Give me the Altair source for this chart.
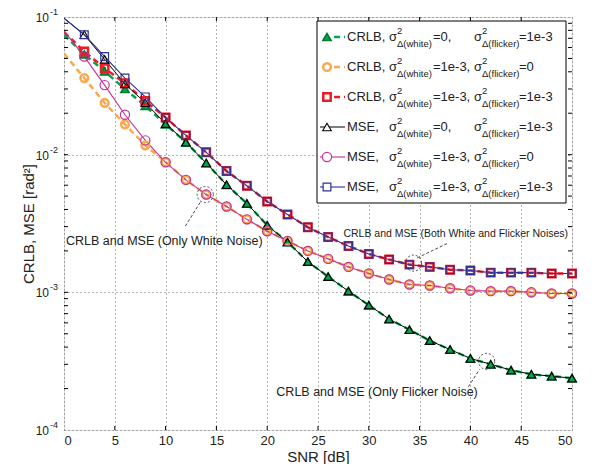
import altair as alt
import pandas as pd

# ---------------- data ----------------
SNR = list(range(0, 51, 2))

crlb_flicker = [0.074, 0.0535, 0.0403, 0.030, 0.0226, 0.0166, 0.0123, 0.00869, 0.00604, 0.00442,
                0.00307, 0.00232, 0.00167, 0.0013, 0.00102, 0.000807, 0.00064, 0.000535, 0.000446,
                0.000384, 0.000331, 0.0003, 0.000272, 0.000254, 0.000246, 0.000238]
crlb_white = [0.0543, 0.036, 0.0238, 0.0166, 0.0117, 0.00883, 0.00656, 0.00513, 0.0042, 0.00339,
              0.00278, 0.00236, 0.002, 0.00175, 0.00153, 0.00137, 0.00124, 0.00114, 0.00112,
              0.00107, 0.00103, 0.00102, 0.00102, 0.001, 0.00098, 0.00098]
crlb_both = [0.078, 0.0561, 0.0424, 0.033, 0.0246, 0.0186, 0.0138, 0.0104, 0.0076, 0.00594,
             0.00457, 0.00368, 0.00297, 0.00252, 0.00217, 0.0019, 0.00173, 0.00159, 0.00153,
             0.00146, 0.00144, 0.00139, 0.00139, 0.00139, 0.00137, 0.00137]
mse_flicker = [0.098, 0.0743, 0.0492, 0.0326, 0.0238, 0.0168, 0.0123, 0.00869, 0.00604, 0.00442,
               0.00307, 0.00232, 0.00167, 0.0013, 0.00102, 0.000807, 0.00064, 0.000535, 0.000446,
               0.000384, 0.000331, 0.0003, 0.000272, 0.000254, 0.000246, 0.000238]
mse_white = [0.0794, 0.0516, 0.032, 0.0195, 0.0127, 0.0088, 0.00656, 0.00513, 0.0042, 0.00339,
             0.00278, 0.00236, 0.002, 0.00175, 0.00153, 0.00137, 0.00124, 0.00114, 0.00112,
             0.00107, 0.00103, 0.00102, 0.00102, 0.001, 0.00098, 0.00098]
mse_both = [0.098, 0.0743, 0.0516, 0.036, 0.0263, 0.0186, 0.0138, 0.0104, 0.0076, 0.00594,
            0.00457, 0.00368, 0.00297, 0.00252, 0.00217, 0.0019, 0.00173, 0.00159, 0.00153,
            0.00146, 0.00144, 0.00139, 0.00139, 0.00139, 0.00137, 0.00137]

X_TICKS = list(range(0, 51, 5))
Y_DECADES = [1e-4, 1e-3, 1e-2, 1e-1]
Y_DECADE_SUP = ["-4", "-3", "-2", "-1"]
Y_MINOR = [m * d for d in [1e-4, 1e-3, 1e-2] for m in range(2, 10)]

ANN_TEXT = ["CRLB and MSE (Only White Noise)",
            "CRLB and MSE  (Both White and Flicker Noises)",
            "CRLB and MSE (Only Flicker Noise)"]
ANN_X = [0.2, 27.5, 20.9]
ANN_Y = [0.00237, 0.00266, 0.000189]
ANN_SIZE = [12.5, 10.5, 12.5]
LEAD_X1 = [13.4, 37.7, 39.8]
LEAD_Y1 = [0.0045, 0.00226, 0.000206]
LEAD_X2 = [11.9, 34.7, 40.9]
LEAD_Y2 = [0.00299, 0.00177, 0.000276]
ELL_X = [13.9, 34.4, 41.6]
ELL_Y = [0.00513, 0.00163, 0.000315]

LEG_LABEL = ["CRLB,", "CRLB,", "CRLB,", "MSE,", "MSE,", "MSE,"]
LEG_EQ1 = ["=0,", "=1e-3,", "=1e-3,", "=0,", "=1e-3,", "=1e-3,"]
LEG_EQ2 = ["=1e-3", "=0", "=1e-3", "=1e-3", "=0", "=1e-3"]

FONT = "Liberation Sans"
GREEN, ORANGE, RED = "#00A651", "#F9A94B", "#EC1C24"
BLACK, MAGENTA, BLUE = "#000000", "#C2309A", "#2E3192"

# series styles: (values, color, dashed, line width, shape, filled, point stroke width, size)
SERIES = [
    (crlb_flicker, GREEN, True, 2.5, "triangle-up", True, 1.5, 70),
    (crlb_white, ORANGE, True, 2.5, "circle", False, 2.5, 60),
    (crlb_both, RED, True, 2.5, "square", False, 2.5, 55),
    (mse_flicker, BLACK, False, 1.0, "triangle-up", False, 1.1, 75),
    (mse_white, MAGENTA, False, 1.1, "circle", False, 1.2, 85),
    (mse_both, BLUE, False, 1.1, "square", False, 1.2, 60),
]

W, H = 508, 413

xs = alt.Scale(domain=[0, 50], nice=False, zero=False)
ys = alt.Scale(type="log", domain=[1e-4, 1e-1], nice=False)
xaxis = alt.Axis(values=X_TICKS, grid=True, gridDash=[1, 3], gridColor="#666", gridWidth=1,
                 ticks=False, domain=False, labelFontSize=13, labelPadding=4,
                 labelColor="#222", labelFont=FONT, title="SNR [dB]", titleFontSize=15,
                 titleFontWeight="normal", titlePadding=2, titleColor="#222", titleFont=FONT)
yaxis = alt.Axis(values=Y_DECADES, grid=True, gridDash=[1, 3], gridColor="#666", gridWidth=1,
                 ticks=False, domain=False, labels=False, title="CRLB, MSE [rad²]",
                 titleFontSize=15, titleFontWeight="normal", titleColor="#222", titleFont=FONT,
                 titleX=-36, titleY=H / 2, titleAngle=270, titleAlign="center",
                 titleBaseline="middle")

X = alt.X("snr:Q", scale=xs, axis=xaxis)
Y = alt.Y("v:Q", scale=ys, axis=yaxis)

main_layers = []
for vals, col, dashed, lw, shape, filled, psw, size in SERIES:
    df = pd.DataFrame({"snr": SNR, "v": vals})
    line_kw = dict(color=col, strokeWidth=lw, clip=True)
    if dashed:
        line_kw["strokeDash"] = [6, 4]
    main_layers.append(alt.Chart(df).mark_line(**line_kw).encode(x=X, y=Y))
for vals, col, dashed, lw, shape, filled, psw, size in SERIES:
    df = pd.DataFrame({"snr": SNR, "v": vals})
    if filled:
        pk = dict(shape=shape, filled=True, fill=col, stroke="#00782f", strokeWidth=psw,
                  size=size, opacity=1)
    else:
        pk = dict(shape=shape, filled=False, stroke=col, strokeWidth=psw, size=size,
                  opacity=1, fill="transparent")
    main_layers.append(alt.Chart(df).transform_filter("datum.snr > 0")
                       .mark_point(**pk).encode(x=X, y=Y))

# minor ticks (inside) on left/right, and x ticks top/bottom
minor_df = pd.DataFrame({"v": Y_MINOR + Y_DECADES[1:3]})
main_layers.append(alt.Chart(minor_df).mark_rule(color="black", strokeWidth=1).encode(
    y=Y, x=alt.value(0), x2=alt.value(4)))
main_layers.append(alt.Chart(minor_df).mark_rule(color="black", strokeWidth=1).encode(
    y=Y, x=alt.value(W - 4), x2=alt.value(W)))
xt_df = pd.DataFrame({"snr": X_TICKS[1:-1]})
main_layers.append(alt.Chart(xt_df).mark_rule(color="black", strokeWidth=1).encode(
    x=X, y=alt.value(0), y2=alt.value(4)))
main_layers.append(alt.Chart(xt_df).mark_rule(color="black", strokeWidth=1).encode(
    x=X, y=alt.value(H - 4), y2=alt.value(H)))

# y tick labels 10^k
ylab_df = pd.DataFrame({"v": Y_DECADES, "sup": Y_DECADE_SUP, "base": ["10"] * 4})
main_layers.append(alt.Chart(ylab_df).mark_text(align="right", baseline="middle", dy=1,
                                                fontSize=12, font=FONT, color="#222").encode(
    y=Y, x=alt.value(-15), text="base:N"))
main_layers.append(alt.Chart(ylab_df).mark_text(align="left", baseline="middle", dy=-5,
                                                fontSize=9, font=FONT, color="#222").encode(
    y=Y, x=alt.value(-14), text="sup:N"))

# annotations
ann_df = pd.DataFrame({"snr": ANN_X, "v": ANN_Y, "t": ANN_TEXT, "fs": ANN_SIZE})
main_layers.append(alt.Chart(ann_df).mark_text(align="left", baseline="middle", font=FONT,
                                               color="#222").encode(
    x=X, y=Y, text="t:N", size=alt.Size("fs:Q", scale=None, legend=None)))
lead_df = pd.DataFrame({"snr": LEAD_X1, "v": LEAD_Y1, "snr2": LEAD_X2, "v2": LEAD_Y2})
main_layers.append(alt.Chart(lead_df).mark_rule(color="#333", strokeWidth=0.9,
                                                strokeDash=[3, 2]).encode(
    x=X, y=Y, x2="snr2:Q", y2="v2:Q"))
ell_df = pd.DataFrame({"snr": ELL_X, "v": ELL_Y})
main_layers.append(alt.Chart(ell_df).mark_point(shape="circle", filled=False, size=260,
                                                stroke="#333", strokeWidth=0.9,
                                                strokeDash=[2, 2], opacity=1).encode(x=X, y=Y))

main = alt.layer(*main_layers)

# ---------------- legend (pixel coordinates inside plot area) ----------------
LEG_Y = [20, 50, 80, 110, 140, 170]
frag = []
for i, yy in enumerate(LEG_Y):
    frag += [
        (283, yy, LEG_LABEL[i], 13), (325, yy, "σ", 13), (333, yy - 6.5, "2", 9.5),
        (333, yy + 7, "Δ(white)", 9.5), (369, yy, LEG_EQ1[i], 13), (410, yy, "σ", 13),
        (418, yy - 6.5, "2", 9.5), (418, yy + 7, "Δ(flicker)", 9.5), (455, yy, LEG_EQ2[i], 13),
    ]
frag_df = pd.DataFrame(frag, columns=["px", "py", "t", "fs"])

PX = lambda f: alt.X(f, scale=None, axis=None)
PY = lambda f: alt.Y(f, scale=None, axis=None)

one = alt.Data(values=[{"a": 1}])
legend_layers = [
    alt.Chart(one).mark_rect(fill="white", stroke="black", strokeWidth=1).encode(
        x=alt.value(253), x2=alt.value(502), y=alt.value(4), y2=alt.value(186)),
    alt.Chart(frag_df).mark_text(align="left", baseline="middle", font=FONT,
                                 color="#222").encode(
        x=PX("px:Q"), y=PY("py:Q"), text="t:N",
        size=alt.Size("fs:Q", scale=None, legend=None)),
]
for i, (vals, col, dashed, lw, shape, filled, psw, size) in enumerate(SERIES):
    yy = LEG_Y[i]
    rk = dict(color=col, strokeWidth=lw)
    if dashed:
        rk["strokeDash"] = [6, 4]
        x1, x2 = 270, 281
    else:
        x1, x2 = 256, 281
    legend_layers.append(alt.Chart(one).mark_rule(**rk).encode(
        x=alt.value(x1), x2=alt.value(x2), y=alt.value(yy)))
    if filled:
        pk = dict(shape=shape, filled=True, fill=col, stroke="#00782f", strokeWidth=psw,
                  size=size, opacity=1)
    else:
        pk = dict(shape=shape, filled=False, stroke=col, strokeWidth=psw, size=size,
                  opacity=1, fill="white")
    legend_layers.append(alt.Chart(one).mark_point(**pk).encode(
        x=alt.value(263), y=alt.value(yy)))

legend = alt.layer(*legend_layers)

chart = (
    alt.layer(main, legend)
    .resolve_scale(x="independent", y="independent")
    .properties(width=W, height=H,
                padding={"left": 56, "top": 9, "right": 8, "bottom": 34},
                autosize=alt.AutoSizeParams(type="none"))
    .configure_view(stroke="black", strokeWidth=1.2)
    .configure(background="white")
)

chart.save("out.html", embed_options={"renderer": "svg", "actions": False})
